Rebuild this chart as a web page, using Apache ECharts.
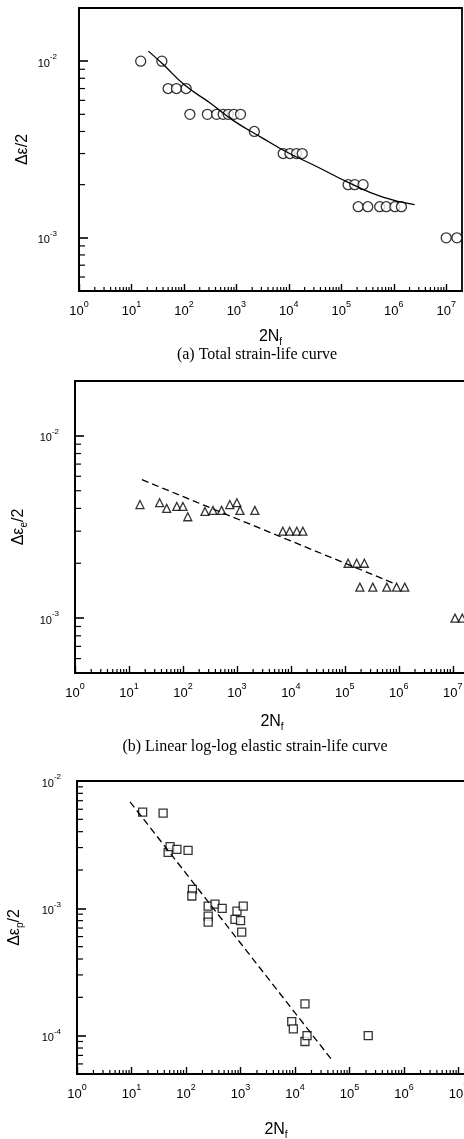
<!DOCTYPE html>
<html>
<head>
<meta charset="utf-8">
<script src="https://cdn.jsdelivr.net/npm/echarts@6/dist/echarts.min.js"></script>
<style>
html,body{margin:0;padding:0;background:#fff;}
#chart{width:464px;height:1139px;}
</style>
</head>
<body>
<div id="chart"></div>
<script>
// ---- (a) total strain amplitude vs reversals to failure ----
const totalN = [15, 38, 50, 72, 110, 130, 280, 420, 560, 700, 900, 1200, 2200,
  7800, 10500, 14000, 18000, 135000, 180000, 260000,
  210000, 320000, 540000, 720000, 1050000, 1400000, 1.0e7, 1.6e7];
const totalStrain = [0.010, 0.010, 0.0070, 0.0070, 0.0070, 0.0050, 0.0050, 0.0050, 0.0050, 0.0050, 0.0050, 0.0050, 0.0040,
  0.0030, 0.0030, 0.0030, 0.0030, 0.0020, 0.0020, 0.0020,
  0.0015, 0.0015, 0.0015, 0.0015, 0.0015, 0.0015, 0.0010, 0.0010];
const totalFitN = [21, 40, 105, 316, 850, 3160, 9100, 31600, 145000, 620000, 2500000];
const totalFitStrain = [0.0114, 0.0096, 0.0073, 0.0058, 0.00464, 0.00367, 0.00306, 0.00256, 0.00204, 0.0017, 0.00154];

// ---- (b) elastic strain amplitude ----
const elasticN = [16, 37, 50, 77, 100, 123, 256, 360, 520, 740, 1000, 1140, 2150,
  7100, 9500, 12900, 16700, 115000, 166000, 230000,
  190000, 330000, 600000, 910000, 1290000, 1.1e7, 1.5e7];
const elasticStrain = [0.0042, 0.0043, 0.0040, 0.0041, 0.0041, 0.0036, 0.00385, 0.0039, 0.0039, 0.0042, 0.0043, 0.0039, 0.0039,
  0.0030, 0.0030, 0.0030, 0.0030, 0.0020, 0.0020, 0.0020,
  0.00148, 0.00148, 0.00148, 0.00148, 0.00148, 0.0010, 0.0010];
const elasticFitN = [17.4, 910000];
const elasticFitStrain = [0.00575, 0.00153];

// ---- (c) plastic strain amplitude ----
const plasticN = [16, 38, 47, 51, 68, 109, 131, 128, 255, 340, 460, 255, 255,
  790, 860, 1000, 1050, 1120, 8700, 9300, 15200, 15200, 16600, 220000];
const plasticStrain = [5.7e-3, 5.6e-3, 2.75e-3, 3.05e-3, 2.9e-3, 2.85e-3, 1.41e-3, 1.25e-3, 1.04e-3, 1.08e-3, 1.0e-3, 8.7e-4, 7.8e-4,
  8.2e-4, 9.5e-4, 8.0e-4, 6.5e-4, 1.04e-3, 1.29e-4, 1.13e-4, 1.78e-4, 9.0e-5, 1.0e-4, 1.0e-4];
const plasticFitN = [9.4, 48000];
const plasticFitStrain = [6.86e-3, 6.4e-5];

// axis extents (decade exponents used for the minor tick marks)
const xExtent = [1, 2e7];
const xDecades = [0, 1, 2, 3, 4, 5, 6, 7];
const yExtentAB = [5e-4, 2e-2];
const yDecadesAB = [-4, -3, -2];
const yExtentC = [5e-5, 1e-2];
const yDecadesC = [-5, -4, -3];

const pairs = (xs, ys) => xs.map((x, i) => [x, ys[i]]);

function minorValues(decades, lo, hi) {
  const out = [];
  decades.forEach(d => {
    for (let k = 2; k <= 9; k++) {
      const v = k * Math.pow(10, d);
      if (v > lo * 1.0001 && v < hi * 0.9999) out.push(v);
    }
  });
  return out;
}

const SANS = 'Liberation Sans, Arial, sans-serif';
const SERIF = 'Liberation Serif, Times New Roman, serif';

const powRich = (size, supSize) => ({
  b: {fontSize: size, fontFamily: SANS, color: '#000', lineHeight: size + 5, verticalAlign: 'bottom'},
  s: {fontSize: supSize, fontFamily: SANS, color: '#000', lineHeight: supSize - 1, verticalAlign: 'top'}
});
const powFormatter = v => '{b|10}{s|' + Math.round(Math.log10(v)) + '}';

function xAxisCfg(idx, gap) {
  return {
    type: 'log', gridIndex: idx, min: xExtent[0], max: xExtent[1], logBase: 10,
    axisLine: {show: true, onZero: false, lineStyle: {color: '#000', width: 1.8}},
    axisTick: {show: true, inside: true, length: 7, lineStyle: {color: '#000', width: 1.4}},
    splitLine: {show: false},
    axisLabel: {formatter: powFormatter, rich: powRich(13, 9), margin: 9, showMaxLabel: false, color: '#000'},
    name: '{n|2N}{f|f}', nameLocation: 'middle', nameGap: gap, nameMoveOverlap: false,
    nameTextStyle: {rich: {
      n: {fontSize: 16, fontFamily: SANS, color: '#000', lineHeight: 18, verticalAlign: 'top'},
      f: {fontSize: 10, fontFamily: SANS, color: '#000', lineHeight: 6, verticalAlign: 'bottom'}
    }}
  };
}

function yAxisCfg(idx, ext, sub, gap, labelMargin, hideMax) {
  return {
    type: 'log', gridIndex: idx, min: ext[0], max: ext[1], logBase: 10,
    axisLine: {show: true, onZero: false, lineStyle: {color: '#000', width: 1.8}},
    axisTick: {show: true, inside: true, length: 9, lineStyle: {color: '#000', width: 1.6}},
    splitLine: {show: false},
    axisLabel: {formatter: powFormatter, rich: powRich(11, 8), margin: labelMargin,
      showMinLabel: false, showMaxLabel: !hideMax, color: '#000'},
    name: sub ? '{t|Δε}{u|' + sub + '}{t|/2}' : '{t|Δε/2}',
    nameLocation: 'middle', nameRotate: 90, nameGap: gap, nameMoveOverlap: false,
    nameTextStyle: {rich: {
      t: {fontSize: 16, fontFamily: SANS, color: '#000', lineHeight: 18, verticalAlign: 'top'},
      u: {fontSize: 10, fontFamily: SANS, color: '#000', lineHeight: 6, verticalAlign: 'bottom'}
    }}
  };
}

function minorTickSeries(idx, axis, values, anchor, len) {
  return {
    type: 'custom', xAxisIndex: idx, yAxisIndex: idx, silent: true, clip: false, z: 5,
    data: values.map(v => axis === 'x' ? [v, anchor] : [anchor, v]),
    renderItem: (params, api) => {
      const p = api.coord([api.value(0), api.value(1)]);
      const shape = axis === 'x'
        ? {x1: p[0], y1: p[1], x2: p[0], y2: p[1] - len}
        : {x1: p[0], y1: p[1], x2: p[0] + len, y2: p[1]};
      return {type: 'line', shape: shape, style: {stroke: '#000', lineWidth: 1.2}};
    }
  };
}

function scatterSeries(idx, data, symbol, size) {
  return {
    type: 'scatter', xAxisIndex: idx, yAxisIndex: idx, data: data,
    symbol: symbol, symbolSize: size,
    itemStyle: {color: '#fff', borderColor: '#000', borderWidth: 1.3},
    z: 3
  };
}

function lineSeries(idx, data, dashed, smooth) {
  return {
    type: 'line', xAxisIndex: idx, yAxisIndex: idx, data: data,
    showSymbol: false, symbol: 'none', smooth: smooth, z: 4,
    lineStyle: {color: '#000', width: 1.3, type: dashed ? [7, 4] : 'solid'}
  };
}

const grids = [
  {left: 79, top: 8, width: 383, height: 283},
  {left: 75, top: 381, width: 394, height: 292},
  {left: 77, top: 781, width: 398, height: 293}
];

const option = {
  animation: false,
  backgroundColor: '#fff',
  grid: grids.map(g => Object.assign({
    show: true, borderColor: '#000', borderWidth: 1.8, backgroundColor: 'transparent',
    containLabel: false, outerBoundsMode: 'none'
  }, g)),
  xAxis: [xAxisCfg(0, 38), xAxisCfg(1, 41), xAxisCfg(2, 48)],
  yAxis: [
    yAxisCfg(0, yExtentAB, '', 46, 22, true),
    yAxisCfg(1, yExtentAB, 'e', 46, 16, true),
    yAxisCfg(2, yExtentC, 'p', 52, 16, false)
  ],
  graphic: [
    {type: 'text', x: 257, y: 355, style: {text: '(a) Total strain-life curve', font: '16px ' + SERIF, fill: '#000', textAlign: 'center', textVerticalAlign: 'middle'}},
    {type: 'text', x: 255, y: 747, style: {text: '(b) Linear log-log elastic strain-life curve', font: '16px ' + SERIF, fill: '#000', textAlign: 'center', textVerticalAlign: 'middle'}}
  ],
  series: [
    scatterSeries(0, pairs(totalN, totalStrain), 'circle', 10),
    lineSeries(0, pairs(totalFitN, totalFitStrain), false, true),
    scatterSeries(1, pairs(elasticN, elasticStrain), 'triangle', 8),
    lineSeries(1, pairs(elasticFitN, elasticFitStrain), true, false),
    scatterSeries(2, pairs(plasticN, plasticStrain), 'rect', 8),
    lineSeries(2, pairs(plasticFitN, plasticFitStrain), true, false),
    minorTickSeries(0, 'x', minorValues(xDecades, xExtent[0], xExtent[1]), yExtentAB[0], 4),
    minorTickSeries(1, 'x', minorValues(xDecades, xExtent[0], xExtent[1]), yExtentAB[0], 4),
    minorTickSeries(2, 'x', minorValues(xDecades, xExtent[0], xExtent[1]), yExtentC[0], 4),
    minorTickSeries(0, 'y', minorValues(yDecadesAB, yExtentAB[0], yExtentAB[1]), xExtent[0], 6),
    minorTickSeries(1, 'y', minorValues(yDecadesAB, yExtentAB[0], yExtentAB[1]), xExtent[0], 6),
    minorTickSeries(2, 'y', minorValues(yDecadesC, yExtentC[0], yExtentC[1]), xExtent[0], 6)
  ]
};

const chart = echarts.init(document.getElementById('chart'), null, {renderer: 'canvas'});
chart.setOption(option);
</script>
</body>
</html>
